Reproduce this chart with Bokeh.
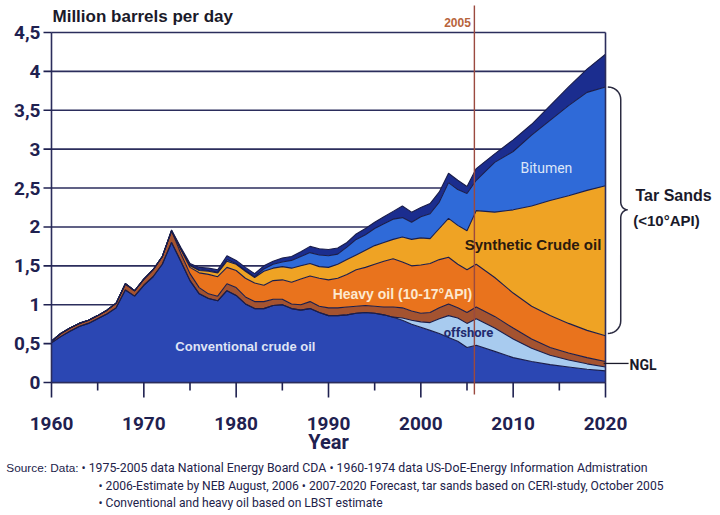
import numpy as np
from bokeh.plotting import figure
from bokeh.models import ColumnDataSource, Range1d
from bokeh.core.properties import value
from bokeh.embed import file_html
from bokeh.resources import INLINE

# ---------------- data (million barrels per day) ----------------
years = list(range(1960, 2007)) + [2008, 2010, 2012, 2014, 2016, 2018, 2020]

conventional = [0.51, 0.59, 0.66, 0.72, 0.76, 0.82, 0.88, 0.96, 1.19, 1.11,
                1.25, 1.36, 1.52, 1.80, 1.56, 1.31, 1.14, 1.08, 1.05, 1.18,
                1.12, 1.01, 0.95, 0.95, 0.99, 1.00, 0.95, 0.93, 0.95, 0.90,
                0.86, 0.86, 0.87, 0.89, 0.90, 0.89, 0.87, 0.84, 0.80, 0.75,
                0.71, 0.67, 0.63, 0.58, 0.53, 0.45, 0.48,
                0.40, 0.32, 0.27, 0.23, 0.20, 0.17, 0.15]
offshore = [0.0] * 38 + [0.03, 0.05, 0.07, 0.10, 0.19, 0.28, 0.30, 0.31, 0.34,
                         0.30, 0.24, 0.17, 0.12, 0.09, 0.07, 0.05]
ngl = [0.02, 0.04, 0.04, 0.04, 0.04, 0.04, 0.05, 0.06, 0.08, 0.07,
       0.08, 0.09, 0.10, 0.15, 0.10, 0.09, 0.08, 0.06, 0.06, 0.09,
       0.10, 0.09, 0.09, 0.09, 0.08, 0.07, 0.06, 0.07, 0.09, 0.08,
       0.10, 0.10, 0.10, 0.09, 0.09, 0.09, 0.10, 0.13, 0.13, 0.12,
       0.11, 0.13, 0.14, 0.15, 0.13, 0.14, 0.15,
       0.15, 0.14, 0.12, 0.10, 0.09, 0.08, 0.07]
heavy = [0.0] * 14 + [0.05, 0.08, 0.19, 0.25, 0.25, 0.21,
                      0.22, 0.24, 0.24, 0.21, 0.24, 0.25, 0.28, 0.33, 0.33, 0.36,
                      0.36, 0.38, 0.42, 0.47, 0.49, 0.54, 0.59, 0.62, 0.59, 0.58,
                      0.62, 0.63, 0.62, 0.60, 0.56, 0.55, 0.55,
                      0.50, 0.45, 0.42, 0.41, 0.38, 0.35, 0.33]
synthetic = [0.0] * 14 + [0.01, 0.02, 0.03, 0.04, 0.05, 0.08,
                          0.08, 0.09, 0.07, 0.18, 0.16, 0.17, 0.18, 0.17, 0.16, 0.15,
                          0.16, 0.18, 0.19, 0.19, 0.22, 0.24, 0.24, 0.25, 0.32, 0.34,
                          0.35, 0.32, 0.40, 0.50, 0.50, 0.50, 0.69,
                          0.84, 1.07, 1.29, 1.48, 1.64, 1.80, 1.93]
bitumen = [0.0] * 15 + [0.01, 0.01, 0.01, 0.01, 0.02,
                        0.01, 0.01, 0.01, 0.03, 0.05, 0.06, 0.10, 0.12, 0.14, 0.15,
                        0.15, 0.13, 0.16, 0.20, 0.20, 0.22, 0.24, 0.26, 0.25, 0.22,
                        0.27, 0.32, 0.34, 0.46, 0.46, 0.48, 0.39,
                        0.64, 0.75, 0.91, 1.03, 1.16, 1.26, 1.27]
other = [0.0] * 13 + [0.01, 0.02, 0.02, 0.03, 0.03, 0.03, 0.05,
                      0.04, 0.04, 0.04, 0.04, 0.04, 0.05, 0.05, 0.06, 0.08, 0.08,
                      0.08, 0.08, 0.06, 0.07, 0.08, 0.08, 0.09, 0.10, 0.15, 0.13,
                      0.12, 0.13, 0.13, 0.12, 0.12, 0.09, 0.15,
                      0.11, 0.15, 0.14, 0.19, 0.24, 0.30, 0.42]

layer_names = ["conventional", "offshore", "ngl", "heavy", "synthetic", "bitumen", "other"]
layer_colors = ["#2b47b3", "#a8cbef", "#a45330", "#e9731d", "#efa324", "#2f6ad8", "#1b2d8f"]

y_ticks = [0.0, 0.5, 1.0, 1.5, 2.0, 2.5, 3.0, 3.5, 4.0, 4.5]
y_tick_labels = ["0", "0,5", "1", "1,5", "2", "2,5", "3", "3,5", "4", "4,5"]
x_ticks = [1960, 1970, 1980, 1990, 2000, 2010, 2020]
x_tick_labels = ["1960", "1970", "1980", "1990", "2000", "2010", "2020"]
x_minor_ticks = [1965, 1975, 1985, 1995, 2005, 2015]
marker_year = 2005.8

source = ColumnDataSource(dict(year=years, conventional=conventional, offshore=offshore,
                               ngl=ngl, heavy=heavy, synthetic=synthetic,
                               bitumen=bitumen, other=other))

# ---------------- layout ----------------
W, H = 720, 515
X0, X1 = 1960, 2020
Y0, Y1 = 0.0, 4.5
FL, FT, FW, FH = 51, 32, 554, 350          # plot box inside canvas (px)
XS = FW / (X1 - X0)                        # px per year
YS = FH / (Y1 - Y0)                        # px per unit
x_range = Range1d(X0 - FL / XS, X0 + (W - FL) / XS)
y_range = Range1d(Y0 - (H - FT - FH) / YS, Y1 + FT / YS)

DARK = "#1f2150"
LINE = "#2b2d5c"
AX = "Roboto"
SANS = "Liberation Sans"

p = figure(width=W, height=H, output_backend="svg", toolbar_location=None,
           x_range=x_range, y_range=y_range, min_border=0,
           background_fill_color="white", border_fill_color="white")
p.axis.visible = False
p.grid.visible = False
p.outline_line_color = None

# horizontal grid lines (under the areas)
p.segment(x0=[X0] * len(y_ticks), x1=[X1] * len(y_ticks), y0=y_ticks, y1=y_ticks,
          line_color=LINE, line_width=1.6)

# stacked areas and their outlines
p.varea_stack(stackers=layer_names, x="year", color=layer_colors, source=source)
p.vline_stack(stackers=layer_names, x="year", color="#1a1d4a", line_width=1.1,
              source=source)

# plot box: left axis, bottom axis, right border
p.segment(x0=[X0, X0, X1], x1=[X0, X1, X1], y0=[Y0, Y0, Y0], y1=[Y1, Y0, Y1],
          line_color=LINE, line_width=1.6)

# y ticks + labels
p.segment(x0=[X0 - 8 / XS] * len(y_ticks), x1=[X0] * len(y_ticks), y0=y_ticks,
          y1=y_ticks, line_color=DARK, line_width=1.6)
p.text(x=[X0 - 11 / XS] * len(y_ticks), y=y_ticks, text=y_tick_labels,
       text_font=value(AX), text_font_size="19px", text_font_style="bold",
       text_color=DARK, text_align="right", text_baseline="middle")

# x ticks + labels
p.segment(x0=x_ticks, x1=x_ticks, y0=[Y0] * len(x_ticks),
          y1=[Y0 - 15 / YS] * len(x_ticks), line_color=DARK, line_width=1.6)
p.segment(x0=x_minor_ticks, x1=x_minor_ticks, y0=[Y0] * len(x_minor_ticks),
          y1=[Y0 - 8 / YS] * len(x_minor_ticks), line_color=DARK, line_width=1.6)
p.text(x=x_ticks, y=[Y0 - 41 / YS] * len(x_ticks), text=x_tick_labels,
       text_font=value(AX), text_font_size="19px", text_font_style="bold",
       text_color=DARK, text_align="center", text_baseline="middle")


def lab(x, y, text, size, color, font=SANS, style="bold", align="center",
        baseline="middle"):
    p.text(x=[x], y=[y], text=[text], text_font=value(font), text_font_size=size,
           text_font_style=style, text_color=color, text_align=align,
           text_baseline=baseline)


lab(1990.0, Y0 - 59 / YS, "Year", "20px", DARK, font=AX)

# 2005 marker line
p.segment(x0=[marker_year], x1=[marker_year], y0=[Y1 + 27 / YS], y1=[Y0 - 12 / YS],
          line_color="#9b4a3f", line_width=1.4)

lab(X0 + 1 / XS, Y1 + 16 / YS, "Million barrels per day", "17px", "#1a1a2a",
    align="left")
lab(2003.97, Y1 + 10 / YS, "2005", "12px", "#b8643c")
lab(2013.6, 2.76, "Bitumen", "14px", "#dce6f8", font=AX, style="normal")
lab(2012.15, 1.77, "Synthetic Crude oil", "15px", "#2b1a0e")
lab(1998.0, 1.14, "Heavy oil (10-17°API)", "14px", "#fde9cf")
lab(2005.16, 0.64, "offshore", "13px", "#1f2a6e", font=AX)
lab(1981.0, 0.46, "Conventional crude oil", "13px", "#dfe3f5")
lab(2023.25, 2.40, "Tar Sands", "16px", "#1a1a2a", align="left")
lab(2023.0, 2.08, "(<10°API)", "15px", "#1a1a2a", align="left")
lab(2022.6, 0.23, "NGL", "14px", "#1a1a2a", font=AX, align="left")

# NGL pointer
p.segment(x0=[2019.8], x1=[2022.5], y0=[0.245], y1=[0.245], line_color="#1a1a2a",
          line_width=1.3)

# curly brace for tar sands (bitumen + synthetic)
x0, x1, xt = 2020.25, 2021.65, 2022.4
ytop, ybot, ymid = 3.80, 0.63, 2.22
ry, ry2 = 0.16, 0.10
t = np.linspace(np.pi / 2, 0, 10)
bx = list(x0 + (x1 - x0) * np.cos(t)); by = list(ytop - ry + ry * np.sin(t))
t = np.linspace(np.pi, 1.5 * np.pi, 8)
bx += list(xt + (xt - x1) * np.cos(t)); by += list(ymid + ry2 + ry2 * np.sin(t))
t = np.linspace(0.5 * np.pi, np.pi, 8)
bx += list(xt + (xt - x1) * np.cos(t)); by += list(ymid - ry2 + ry2 * np.sin(t))
t = np.linspace(0, -np.pi / 2, 10)
bx += list(x0 + (x1 - x0) * np.cos(t)); by += list(ybot + ry + ry * np.sin(t))
p.line(bx, by, line_color="#2a2a40", line_width=1.5)

# source notes
SRC = "#22224a"
lab(X0 + 27 / XS, Y0 - 85 / YS, "Source: Data:", "11.8px", SRC, style="normal",
    align="right")
lab(X0 + 30 / XS, Y0 - 85 / YS,
    "• 1975-2005 data National Energy Board CDA • 1960-1974 data US-DoE-Energy Information Admistration",
    "12.3px", SRC, font=AX, style="normal", align="left")
lab(X0 + 47 / XS, Y0 - 103 / YS,
    "• 2006-Estimate by NEB August, 2006 • 2007-2020 Forecast, tar sands based on CERI-study, October 2005",
    "12.1px", SRC, font=AX, style="normal", align="left")
lab(X0 + 47 / XS, Y0 - 120 / YS, "• Conventional and heavy oil based on LBST estimate",
    "12.1px", SRC, font=AX, style="normal", align="left")

open("out.html", "w").write(file_html(p, INLINE))
